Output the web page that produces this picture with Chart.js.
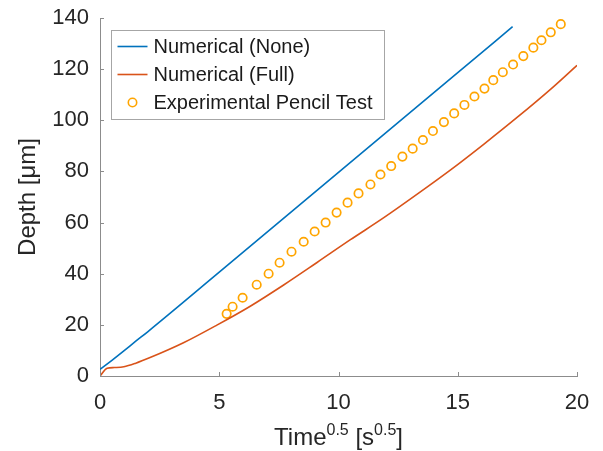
<!DOCTYPE html>
<html>
<head>
<meta charset="utf-8">
<script src="https://cdn.jsdelivr.net/npm/chart.js@4/dist/chart.umd.min.js"></script>
<style>
  html, body { margin: 0; padding: 0; background: #fff; }
  #depthChart { display: block; }
</style>
</head>
<body>
<canvas id="depthChart" width="603" height="451"></canvas>
<script>
// tick labels
const xTicks = [0, 5, 10, 15, 20];
const yTicks = [0, 20, 40, 60, 80, 100, 120, 140];

// Numerical (None)
const noneX = [0, 0.5, 1, 1.5, 2, 5, 10, 15, 17.3];
const noneY = [2.6, 6.1, 9.8, 13.6, 17.3, 40.6, 79.6, 118.6, 136.6];

// Numerical (Full)
const fullX = [0, 0.3, 0.6, 1, 1.5, 2.1, 3.5, 4.9, 6.3, 7.7, 9.1, 10.5, 11.9, 13.3, 14.7, 16.1, 17.5, 18.9, 20];
const fullY = [0, 3.0, 3.3, 3.6, 5.0, 7.2, 13.0, 19.9, 27.3, 35.6, 44.4, 53.3, 61.9, 71.1, 80.6, 90.7, 101.2, 112.2, 121.5];

// Experimental Pencil Test
const expX = [5.31, 5.56, 5.98, 6.57, 7.07, 7.53, 8.03, 8.54, 9.00, 9.46, 9.92, 10.38, 10.84, 11.34,
  11.76, 12.21, 12.68, 13.11, 13.54, 13.96, 14.42, 14.85, 15.28, 15.70, 16.12, 16.49, 16.89,
  17.32, 17.75, 18.17, 18.51, 18.90, 19.32];
const expY = [24.3, 27.1, 30.6, 35.7, 40.0, 44.3, 48.6, 52.5, 56.5, 60.0, 63.9, 67.8, 71.4, 74.9,
  78.8, 82.1, 85.8, 88.9, 92.3, 95.8, 99.3, 102.7, 106.0, 109.3, 112.4, 115.7, 118.8,
  121.8, 125.1, 128.4, 131.3, 134.4, 137.6];

const seriesNames = ["Numerical (None)", "Numerical (Full)", "Experimental Pencil Test"];
const seriesColors = ["#0072BD", "#D95319", "#FFA500"];

const axisColor = "#8c8c8c";
const textColor = "#262626";
const fontFamily = "'Liberation Sans', Arial, Helvetica, sans-serif";

function toPoints(xs, ys) {
  return xs.map((x, i) => ({ x: x, y: ys[i] }));
}

// MATLAB style ticks pointing into the plot
const innerTicks = {
  id: "innerTicks",
  afterDraw(chart) {
    const { ctx, chartArea, scales } = chart;
    ctx.save();
    ctx.strokeStyle = axisColor;
    ctx.lineWidth = 1;
    ctx.beginPath();
    xTicks.forEach(v => {
      const px = Math.round(scales.x.getPixelForValue(v)) + 0.5;
      ctx.moveTo(px, chartArea.bottom);
      ctx.lineTo(px, chartArea.bottom - 4);
    });
    yTicks.forEach(v => {
      const py = Math.round(scales.y.getPixelForValue(v)) + 0.5;
      ctx.moveTo(chartArea.left, py);
      ctx.lineTo(chartArea.left + 4, py);
    });
    ctx.stroke();
    ctx.restore();
  }
};

// x title with superscripts
const xTitle = {
  id: "xTitle",
  afterDraw(chart) {
    const { ctx, chartArea } = chart;
    const parts = [
      ["Time", false], ["0.5", true], [" [s", false], ["0.5", true], ["]", false]
    ];
    const big = "24px " + fontFamily;
    const small = "16px " + fontFamily;
    ctx.save();
    ctx.fillStyle = textColor;
    ctx.textBaseline = "alphabetic";
    let total = 0;
    parts.forEach(p => {
      ctx.font = p[1] ? small : big;
      total += ctx.measureText(p[0]).width;
    });
    let x = (chartArea.left + chartArea.right) / 2 - total / 2;
    const base = 445;
    parts.forEach(p => {
      ctx.font = p[1] ? small : big;
      ctx.fillText(p[0], x, p[1] ? base - 10 : base);
      x += ctx.measureText(p[0]).width;
    });
    ctx.restore();
  }
};

// legend box inside the axes, top left
const boxLegend = {
  id: "boxLegend",
  afterDraw(chart) {
    const { ctx, chartArea } = chart;
    const left = chartArea.left + 11.5;
    const top = 30.5;
    const w = 273, h = 89;
    ctx.save();
    ctx.fillStyle = "#fff";
    ctx.fillRect(left, top, w, h);
    ctx.strokeStyle = "#a6a6a6";
    ctx.lineWidth = 1;
    ctx.strokeRect(left, top, w, h);
    ctx.font = "20px " + fontFamily;
    ctx.textBaseline = "middle";
    seriesNames.forEach((name, i) => {
      const y = top + 16 + i * 28;
      ctx.strokeStyle = seriesColors[i];
      ctx.lineWidth = 1.6;
      ctx.beginPath();
      if (i < 2) {
        ctx.moveTo(left + 6, y);
        ctx.lineTo(left + 36, y);
      } else {
        ctx.arc(left + 21, y, 4.2, 0, Math.PI * 2);
      }
      ctx.stroke();
      ctx.fillStyle = "#1a1a1a";
      ctx.fillText(name, left + 42, y + 1);
    });
    ctx.restore();
  }
};

const ctx = document.getElementById("depthChart").getContext("2d");
new Chart(ctx, {
  type: "scatter",
  data: {
    datasets: [
      {
        label: seriesNames[0],
        data: toPoints(noneX, noneY),
        showLine: true,
        borderColor: seriesColors[0],
        borderWidth: 1.6,
        pointRadius: 0,
        cubicInterpolationMode: "monotone"
      },
      {
        label: seriesNames[1],
        data: toPoints(fullX, fullY),
        showLine: true,
        borderColor: seriesColors[1],
        borderWidth: 1.6,
        pointRadius: 0,
        cubicInterpolationMode: "monotone"
      },
      {
        label: seriesNames[2],
        data: toPoints(expX, expY),
        showLine: false,
        borderColor: seriesColors[2],
        backgroundColor: "rgba(0,0,0,0)",
        borderWidth: 1.7,
        pointRadius: 4.2,
        pointStyle: "circle"
      }
    ]
  },
  options: {
    responsive: false,
    animation: false,
    events: [],
    layout: { padding: { left: 0, right: 26, top: 18, bottom: 0 } },
    plugins: {
      legend: { display: false },
      tooltip: { enabled: false }
    },
    scales: {
      x: {
        type: "linear",
        min: 0,
        max: 20,
        afterFit: s => { s.height = 75; s.paddingLeft = 0; s.paddingRight = 0; },
        afterBuildTicks: s => { s.ticks = xTicks.map(v => ({ value: v })); },
        ticks: {
          color: textColor,
          padding: 14,
          font: { family: fontFamily, size: 22 }
        },
        grid: { drawOnChartArea: false, drawTicks: false },
        border: { color: axisColor, width: 1 }
      },
      y: {
        type: "linear",
        min: 0,
        max: 140,
        afterFit: s => { s.width = 100; s.paddingTop = 0; s.paddingBottom = 0; },
        afterBuildTicks: s => { s.ticks = yTicks.map(v => ({ value: v })); },
        ticks: {
          color: textColor,
          padding: 11,
          font: { family: fontFamily, size: 22 }
        },
        grid: { drawOnChartArea: false, drawTicks: false },
        border: { color: axisColor, width: 1 },
        title: {
          display: true,
          text: "Depth [μm]",
          color: textColor,
          padding: { top: 14, bottom: 0 },
          font: { family: fontFamily, size: 24 }
        }
      }
    }
  },
  plugins: [innerTicks, xTitle, boxLegend]
});
</script>
</body>
</html>
